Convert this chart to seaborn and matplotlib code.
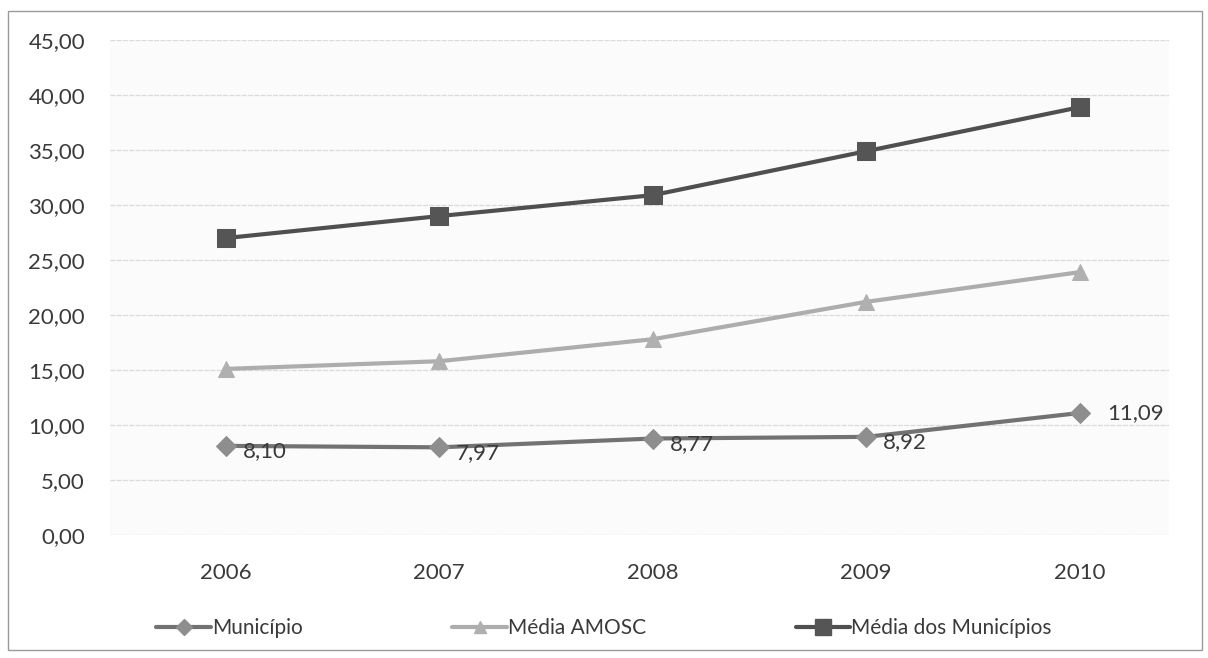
import matplotlib
matplotlib.use("Agg")
import matplotlib.pyplot as plt
import seaborn as sns
import pandas as pd
from matplotlib.patches import Rectangle
from matplotlib.lines import Line2D

anos = ["2006", "2007", "2008", "2009", "2010"]
municipio = [8.10, 7.97, 8.77, 8.92, 11.09]
media_amosc = [15.1, 15.8, 17.8, 21.2, 23.9]
media_municipios = [27.0, 29.0, 30.9, 34.9, 38.9]
series = ["Município", "Média AMOSC", "Média dos Municípios"]

df = pd.DataFrame({
    "pos": list(range(len(anos))) * 3,
    "valor": municipio + media_amosc + media_municipios,
    "serie": [series[0]] * 5 + [series[1]] * 5 + [series[2]] * 5,
})

sns.set_theme(style="white")
plt.rcParams["font.family"] = ["Lato", "DejaVu Sans"]

fig = plt.figure(figsize=(12.08, 6.58), dpi=100)
ax = fig.add_axes([0.091, 0.187, 0.877, 0.752])

line_col = {series[0]: "#727272", series[1]: "#adadad", series[2]: "#4f4f4f"}
mark_col = {series[0]: "#8e8e8e", series[1]: "#b0b0b0", series[2]: "#555555"}
markers = {series[0]: "D", series[1]: "^", series[2]: "s"}
msize = {series[0]: 10, series[1]: 11, series[2]: 13}

sns.lineplot(data=df, x="pos", y="valor", hue="serie", style="serie",
             palette=line_col, markers=markers, dashes=False, linewidth=3,
             ax=ax, legend=False)
for line, s in zip(ax.lines, series):
    line.set_markerfacecolor(mark_col[s])
    line.set_markeredgecolor(mark_col[s])
    line.set_markersize(msize[s])

ax.set_xlim(-0.543, 4.42)
ax.set_ylim(0, 45)
ax.set_yticks([i * 5 for i in range(10)])
ax.set_yticklabels([f"{i * 5:.2f}".replace(".", ",") for i in range(10)])
ax.set_xticks(range(len(anos)))
ax.set_xticklabels(anos)
ax.tick_params(axis="y", labelsize=16, colors="#3a3a3a", length=0, pad=18)
ax.tick_params(axis="x", labelsize=16, colors="#3a3a3a", length=0, pad=20)
ax.set_xlabel("")
ax.set_ylabel("")
ax.yaxis.grid(True, color="#dadada", linewidth=0.9, linestyle=(0, (4, 1)))
for sp in ax.spines.values():
    sp.set_visible(False)
ax.set_facecolor("#fbfbfb")

for i, v in enumerate(municipio):
    dx, dy = (12, -4) if i < 4 else (20, 0)
    ax.annotate(f"{v:.2f}".replace(".", ","), (i, v), xytext=(dx, dy),
                textcoords="offset points", va="center", ha="left",
                fontsize=16, color="#3a3a3a")

handles = []
for s in series:
    handles.append(Line2D([], [], color=line_col[s], linewidth=3, marker=markers[s],
                          markersize=msize[s] - 2, markerfacecolor=mark_col[s],
                          markeredgecolor=mark_col[s]))
fig.legend(handles, series, loc="center", bbox_to_anchor=(0.500, 0.045), ncol=3,
           frameon=False, fontsize=15, handlelength=2.6, handletextpad=0.05,
           columnspacing=7.2, labelcolor="#3a3a3a")

fig.patches.append(Rectangle((0.007, 0.012), 0.988, 0.972, transform=fig.transFigure,
                             fill=False, edgecolor="#9a9a9a", linewidth=1.0))

fig.savefig("out.png", dpi=100)
